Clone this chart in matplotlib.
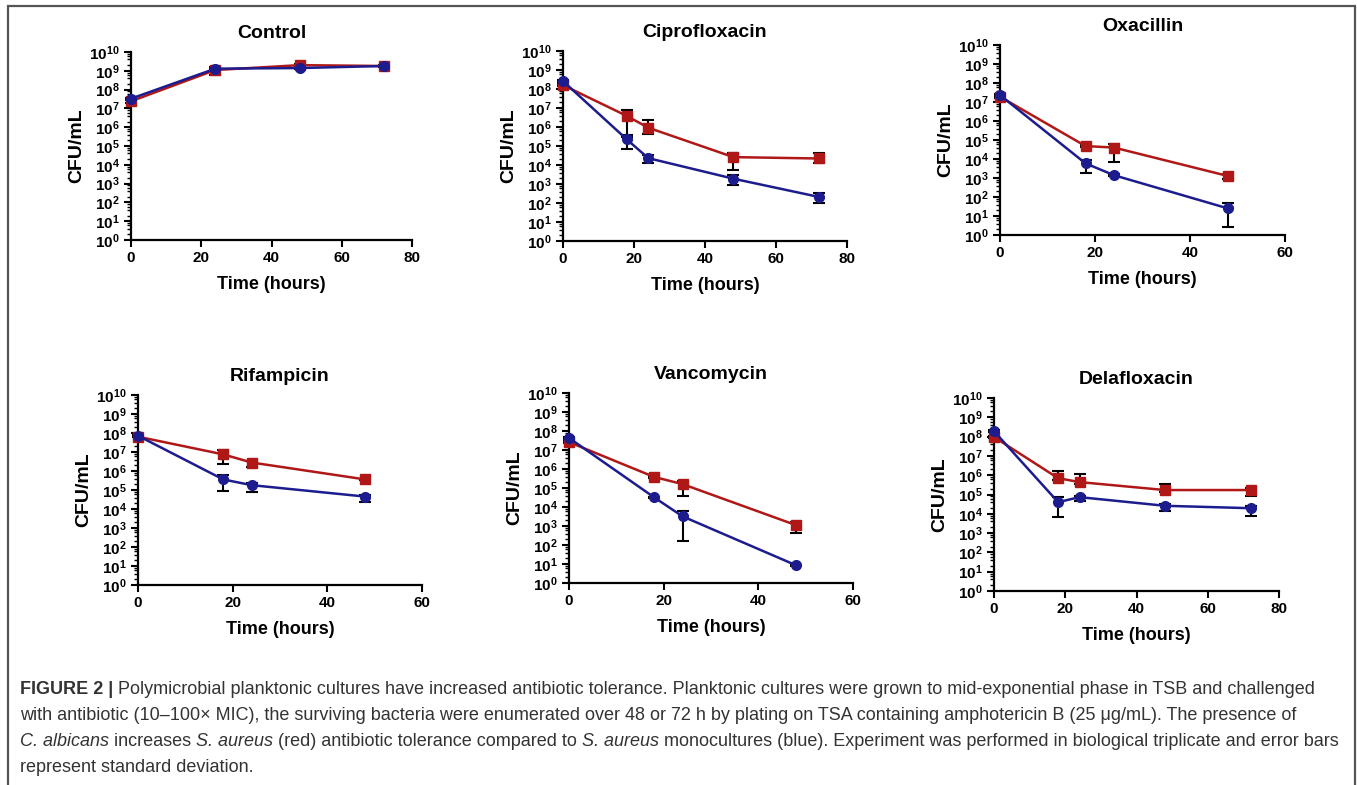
import math
import matplotlib
matplotlib.use('Agg')
import matplotlib.pyplot as plt
from matplotlib.ticker import LogLocator, FuncFormatter, NullFormatter
from matplotlib.patches import Rectangle

plt.rcParams['font.family'] = ['Liberation Sans', 'DejaVu Sans']
plt.rcParams['mathtext.fontset'] = 'custom'
plt.rcParams['mathtext.rm'] = 'Liberation Sans'
plt.rcParams['mathtext.bf'] = 'Liberation Sans:bold'

# Data; lo/hi are the ends of the error bars
titles = ['Control', 'Ciprofloxacin', 'Oxacillin', 'Rifampicin', 'Vancomycin', 'Delafloxacin']
xmax = [80, 80, 60, 60, 60, 80]

ctrl_t = [0, 24, 48, 72]
ctrl_red = [2.4e7, 1.1e9, 2.0e9, 1.8e9]
ctrl_red_lo = [2.0e7, 5.7e8, 1.7e9, 1.5e9]
ctrl_red_hi = [2.8e7, 1.4e9, 2.3e9, 2.1e9]
ctrl_blue = [3.3e7, 1.3e9, 1.4e9, 1.8e9]
ctrl_blue_lo = [3.0e7, 1.1e9, 1.2e9, 1.6e9]
ctrl_blue_hi = [3.6e7, 1.5e9, 1.6e9, 2.0e9]

cipro_t = [0, 18, 24, 48, 72]
cipro_red = [1.6e8, 3.8e6, 9.2e5, 2.6e4, 2.2e4]
cipro_red_lo = [1.4e8, 3.0e5, 4.5e5, 5.2e3, 1.3e4]
cipro_red_hi = [1.8e8, 7.5e6, 2.2e6, 4.3e4, 4.3e4]
cipro_blue = [2.6e8, 2.2e5, 2.3e4, 1.9e3, 2.1e2]
cipro_blue_lo = [2.3e8, 7.0e4, 1.2e4, 9.0e2, 1.0e2]
cipro_blue_hi = [2.9e8, 3.7e5, 3.4e4, 2.9e3, 3.2e2]

oxa_t = [0, 18, 24, 48]
oxa_red = [1.9e7, 4.8e4, 4.0e4, 1.27e3]
oxa_red_lo = [1.7e7, 4.3e4, 7.2e3, 8.5e2]
oxa_red_hi = [2.1e7, 5.3e4, 6.2e4, 1.7e3]
oxa_blue = [2.3e7, 5.9e3, 1.4e3, 25]
oxa_blue_lo = [2.0e7, 1.9e3, 1.25e3, 2.7]
oxa_blue_hi = [2.6e7, 8.9e3, 1.55e3, 46]

rif_t = [0, 18, 24, 48]
rif_red = [6.4e7, 7.5e6, 2.8e6, 3.6e5]
rif_red_lo = [5.8e7, 2.3e6, 1.7e6, 3.2e5]
rif_red_hi = [7.0e7, 1.3e7, 3.5e6, 4.0e5]
rif_blue = [7.2e7, 3.6e5, 1.8e5, 4.5e4]
rif_blue_lo = [6.5e7, 8.9e4, 8.1e4, 2.4e4]
rif_blue_hi = [7.9e7, 6.2e5, 2.4e5, 5.5e4]

vanc_t = [0, 18, 24, 48]
vanc_red = [2.6e7, 3.8e5, 1.6e5, 1.1e3]
vanc_red_lo = [2.3e7, 3.4e5, 4.0e4, 4.3e2]
vanc_red_hi = [2.9e7, 4.2e5, 2.2e5, 1.6e3]
vanc_blue = [4.3e7, 3.2e4, 3.2e3, 8.5]
vanc_blue_lo = [3.9e7, 2.9e4, 1.56e2, 7.7]
vanc_blue_hi = [4.7e7, 3.5e4, 5.9e3, 9.3]

dela_t = [0, 18, 24, 48, 72]
dela_red = [9.5e7, 7.0e5, 4.4e5, 1.7e5, 1.7e5]
dela_red_lo = [8.5e7, 5.5e5, 3.5e5, 1.4e5, 8.0e4]
dela_red_hi = [1.05e8, 1.7e6, 1.15e6, 3.6e5, 2.1e5]
dela_blue = [1.9e8, 4.0e4, 7.3e4, 2.6e4, 1.95e4]
dela_blue_lo = [1.7e8, 7.2e3, 4.7e4, 1.4e4, 8.1e3]
dela_blue_hi = [2.1e8, 7.0e4, 8.5e4, 3.2e4, 2.6e4]

panels = [
    (ctrl_t, ctrl_red, ctrl_red_lo, ctrl_red_hi, ctrl_blue, ctrl_blue_lo, ctrl_blue_hi),
    (cipro_t, cipro_red, cipro_red_lo, cipro_red_hi, cipro_blue, cipro_blue_lo, cipro_blue_hi),
    (oxa_t, oxa_red, oxa_red_lo, oxa_red_hi, oxa_blue, oxa_blue_lo, oxa_blue_hi),
    (rif_t, rif_red, rif_red_lo, rif_red_hi, rif_blue, rif_blue_lo, rif_blue_hi),
    (vanc_t, vanc_red, vanc_red_lo, vanc_red_hi, vanc_blue, vanc_blue_lo, vanc_blue_hi),
    (dela_t, dela_red, dela_red_lo, dela_red_hi, dela_blue, dela_blue_lo, dela_blue_hi),
]

W, H = 1357, 785
# axes boxes in pixels: left, right, top, bottom
boxes = [(131, 412, 52, 240), (563, 847, 51, 241), (1000, 1285, 45, 235),
         (138, 422, 395, 585), (569, 853, 393, 583), (994, 1279, 398, 591)]

red = '#B01818'
blue = '#1C1C8E'

fig = plt.figure(figsize=(W / 100, H / 100), dpi=100)

# frame around the figure
fig.patches.append(Rectangle((8 / W, -0.05), 1347 / W, 1.05 - 6 / H, transform=fig.transFigure,
                             fill=False, edgecolor='#555555', linewidth=1.6))

for (l, r, t, b), title, xm, p in zip(boxes, titles, xmax, panels):
    ax = fig.add_axes([l / W, 1 - b / H, (r - l) / W, (b - t) / H])
    tt, rm, rlo, rhi, bm, blo, bhi = p
    ax.set_yscale('log')
    for m, lo, hi in [(rm, rlo, rhi), (bm, blo, bhi)]:
        yerr = [[v - a for v, a in zip(m, lo)], [c - v for v, c in zip(m, hi)]]
        ax.errorbar(tt, m, yerr=yerr, fmt='none', ecolor='black', elinewidth=1.5,
                    capsize=4, capthick=1.5, zorder=2, clip_on=False)
    ax.plot(tt, rm, color=red, marker='s', markersize=6.5, linewidth=1.8, zorder=3, clip_on=False)
    ax.plot(tt, bm, color=blue, marker='o', markersize=7, linewidth=1.8, zorder=4, clip_on=False)

    ax.set_xlim(0, xm)
    ax.set_ylim(1, 1e10)
    ax.set_xticks(range(0, xm + 1, 20))
    ax.yaxis.set_major_locator(LogLocator(base=10, numticks=20))
    ax.yaxis.set_minor_locator(LogLocator(base=10, subs=(2, 4, 6, 8), numticks=100))
    ax.yaxis.set_minor_formatter(NullFormatter())
    ax.yaxis.set_major_formatter(FuncFormatter(lambda v, pos: r'$\mathbf{10^{%d}}$' % round(math.log10(v))))
    for s in ['top', 'right']:
        ax.spines[s].set_visible(False)
    for s in ['left', 'bottom']:
        ax.spines[s].set_linewidth(1.6)
    ax.tick_params(axis='both', which='major', width=1.5, length=5, labelsize=11, pad=3)
    ax.tick_params(axis='y', which='minor', width=1.0, length=3)
    for lab in ax.get_xticklabels():
        lab.set_fontweight('bold')
    ax.set_title(title, fontsize=14, fontweight='bold', pad=10)
    ax.set_xlabel('Time (hours)', fontsize=13, fontweight='bold', labelpad=8)
    ax.set_ylabel('CFU/mL', fontsize=14, fontweight='bold', labelpad=3)

# caption
cap_lines = [
    [('FIGURE 2 |', 'bold'), (' Polymicrobial planktonic cultures have increased antibiotic tolerance. Planktonic cultures were grown to mid-exponential phase in TSB and challenged', 'normal')],
    [('with antibiotic (10\u2013100\u00d7 MIC), the surviving bacteria were enumerated over 48 or 72 h by plating on TSA containing amphotericin B (25 \u03bcg/mL). The presence of', 'normal')],
    [('C. albicans', 'italic'), (' increases ', 'normal'), ('S. aureus', 'italic'),
     (' (red) antibiotic tolerance compared to ', 'normal'), ('S. aureus', 'italic'),
     (' monocultures (blue). Experiment was performed in biological triplicate and error bars', 'normal')],
    [('represent standard deviation.', 'normal')],
]
cap_y = [690, 716, 742, 768]
renderer = fig.canvas.get_renderer()
for segs, y in zip(cap_lines, cap_y):
    x = 20
    for txt, style in segs:
        kw = dict(fontsize=13, color='#333333', va='center', ha='left')
        if style == 'bold':
            kw['fontweight'] = 'bold'
        if style == 'italic':
            kw['fontstyle'] = 'italic'
        tx = fig.text(x / W, 1 - y / H, txt, **kw)
        bb = tx.get_window_extent(renderer=renderer)
        x += bb.width

plt.savefig('out.png', dpi=100)
plt.close()
